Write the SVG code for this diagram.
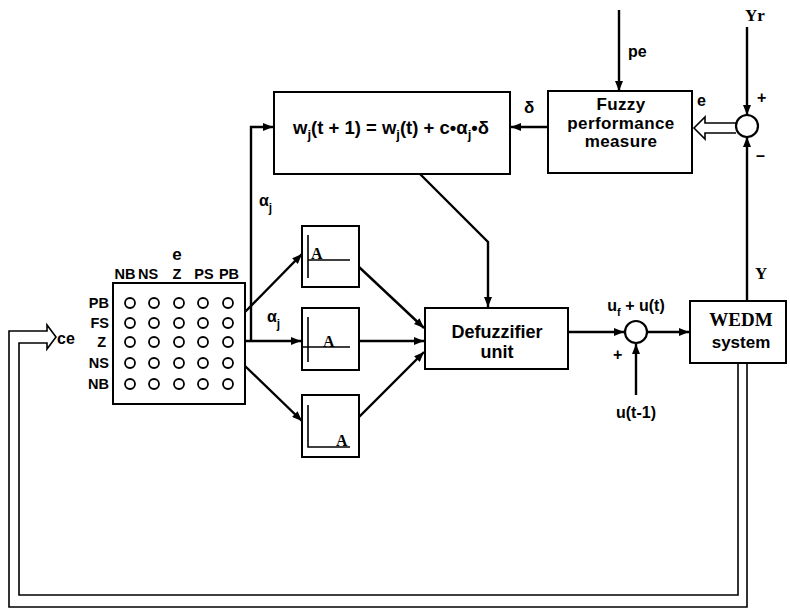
<svg xmlns="http://www.w3.org/2000/svg" width="790" height="610" viewBox="0 0 790 610">
<defs>
<marker id="ah" viewBox="0 0 10 8" refX="10" refY="4" markerWidth="10" markerHeight="8" markerUnits="userSpaceOnUse" orient="auto"><path d="M0,0 L10,4 L0,8 z" fill="#000"/></marker>
</defs>
<style>
.box{fill:#fff;stroke:#000;stroke-width:2}
.ln{fill:none;stroke:#000;stroke-width:2.4}
.thin{fill:none;stroke:#000;stroke-width:1.6}
.ar{marker-end:url(#ah)}
.t{font-family:"Liberation Sans",Arial,sans-serif;font-weight:bold;fill:#000}
.s{font-family:"Liberation Serif","Times New Roman",serif;font-weight:bold;fill:#000}
.m{text-anchor:middle}
.c{fill:none;stroke:#000;stroke-width:1.8}
</style>
<rect width="790" height="610" fill="#fff"/>

<g id="connectors">
  <line class="ln ar" x1="619" y1="10" x2="619" y2="91"/>
  <line class="ln ar" x1="747" y1="27" x2="747" y2="115"/>
  <line class="ln ar" x1="747" y1="301" x2="747" y2="137"/>
  <path class="thin" d="M736,123 H705 V117 L694,128 L705,139 V133 H736" fill="#fff" stroke-width="2"/>
  <line class="ln ar" x1="548" y1="127" x2="511" y2="127"/>
  <polyline class="ln ar" points="251,341 251,127 273,127"/>
  <polyline class="ln ar" points="420,174 488,242 488,307"/>
  <line class="ln ar" x1="245" y1="312" x2="302" y2="254"/>
  <line class="ln ar" x1="245" y1="341" x2="301" y2="341"/>
  <line class="ln ar" x1="245" y1="366" x2="302" y2="421"/>
  <line class="ln ar" x1="359" y1="267" x2="424" y2="328"/>
  <line class="ln ar" x1="359" y1="341" x2="424" y2="341"/>
  <line class="ln ar" x1="359" y1="417" x2="424" y2="352"/>
  <line class="ln ar" x1="568" y1="332" x2="624" y2="332"/>
  <line class="ln ar" x1="647" y1="332" x2="689" y2="332"/>
  <line class="ln ar" x1="636" y1="395" x2="636" y2="344"/>
  <path class="thin" d="M747,363 V607 H9 V331 H47 V325 L56,337 L47,349 V343 H19 V595 H738 V363" stroke-width="2.2"/>
</g>

<g id="update">
  <rect class="box" x="274" y="92" width="236" height="82"/>
  <text class="t m" x="391" y="134" font-size="18.5">w<tspan font-size="13" dy="5">j</tspan><tspan dy="-5">(t + 1) = w</tspan><tspan font-size="13" dy="5">j</tspan><tspan dy="-5">(t) + c•α</tspan><tspan font-size="13" dy="5">j</tspan><tspan dy="-5">•δ</tspan></text>
</g>

<g id="fuzzy">
  <rect class="box" x="548" y="91" width="144" height="82"/>
  <text class="t m" x="621" y="110" font-size="17" letter-spacing="0.4">Fuzzy</text>
  <text class="t m" x="621" y="128.5" font-size="17" letter-spacing="0.4">performance</text>
  <text class="t m" x="621" y="147" font-size="17" letter-spacing="0.4">measure</text>
</g>

<g id="sum1">
  <circle cx="747" cy="126" r="11" fill="#fff" stroke="#000" stroke-width="2.2"/>
</g>

<g id="sum2">
  <circle cx="636" cy="332" r="11" fill="#fff" stroke="#000" stroke-width="2.2"/>
</g>

<g id="matrix">
  <rect class="box" x="113" y="283" width="132" height="121"/>
  <g class="c">
    <circle cx="130" cy="303" r="5"/><circle cx="154" cy="303" r="5"/><circle cx="179" cy="303" r="5"/><circle cx="203" cy="303" r="5"/><circle cx="228" cy="303" r="5"/>
    <circle cx="130" cy="323" r="5"/><circle cx="154" cy="323" r="5"/><circle cx="179" cy="323" r="5"/><circle cx="203" cy="323" r="5"/><circle cx="228" cy="323" r="5"/>
    <circle cx="130" cy="342" r="5"/><circle cx="154" cy="342" r="5"/><circle cx="179" cy="342" r="5"/><circle cx="203" cy="342" r="5"/><circle cx="228" cy="342" r="5"/>
    <circle cx="130" cy="363" r="5"/><circle cx="154" cy="363" r="5"/><circle cx="179" cy="363" r="5"/><circle cx="203" cy="363" r="5"/><circle cx="228" cy="363" r="5"/>
    <circle cx="130" cy="384" r="5"/><circle cx="154" cy="384" r="5"/><circle cx="179" cy="384" r="5"/><circle cx="203" cy="384" r="5"/><circle cx="228" cy="384" r="5"/>
  </g>
  <text class="t m" x="177" y="260" font-size="17">e</text>
  <g class="t m" font-size="14.5">
    <text x="125" y="279">NB</text><text x="148" y="279">NS</text><text x="177" y="279">Z</text><text x="204" y="279">PS</text><text x="229" y="279">PB</text>
  </g>
  <g class="t" font-size="14.5" text-anchor="end">
    <text x="109" y="308">PB</text><text x="109" y="328">FS</text><text x="106" y="347">Z</text><text x="109" y="368">NS</text><text x="109" y="389">NB</text>
  </g>
</g>

<g id="a1">
  <rect class="box" x="302" y="226" width="57" height="61"/>
  <path class="thin" d="M308,235 V278 M308,260 H350"/>
  <text class="s" x="311" y="259" font-size="16">A</text>
</g>
<g id="a2">
  <rect class="box" x="302" y="308" width="57" height="62"/>
  <path class="thin" d="M308,317 V362 M302,347 H350"/>
  <text class="s" x="323" y="347" font-size="16">A</text>
</g>
<g id="a3">
  <rect class="box" x="302" y="395" width="57" height="62"/>
  <path class="thin" d="M308,405 V447 H350"/>
  <text class="s" x="336" y="446" font-size="16">A</text>
</g>

<g id="defuzzifier">
  <rect class="box" x="425" y="308" width="143" height="61"/>
  <text class="t m" x="497" y="338" font-size="18">Defuzzifier</text>
  <text class="t m" x="497" y="358" font-size="18">unit</text>
</g>

<g id="wedm">
  <rect class="box" x="690" y="301" width="96" height="62"/>
  <text class="s m" x="741" y="326" font-size="19">WEDM</text>
  <text class="t m" x="741" y="348" font-size="17">system</text>
</g>

<g id="labels">
  <text class="t" x="628" y="57" font-size="16">pe</text>
  <text class="s" x="745" y="21" font-size="17">Yr</text>
  <text class="t" x="757" y="103" font-size="16">+</text>
  <text class="t" x="756" y="161" font-size="16">–</text>
  <text class="t" x="697" y="106" font-size="16">e</text>
  <text class="t" x="524" y="113" font-size="17">δ</text>
  <text class="s" x="755" y="279" font-size="17">Y</text>
  <text class="t" x="259" y="206" font-size="16">α<tspan font-size="12" dy="6">j</tspan></text>
  <text class="t" x="267" y="322" font-size="16">α<tspan font-size="12" dy="6">j</tspan></text>
  <text class="t" x="57" y="344" font-size="16">ce</text>
  <text class="t m" x="636" y="311" font-size="16">u<tspan font-size="11" dy="5">f</tspan><tspan dy="-5"> + u(t)</tspan></text>
  <text class="t" x="613" y="360" font-size="16">+</text>
  <text class="t m" x="636" y="418" font-size="16">u(t-1)</text>
</g>
</svg>
